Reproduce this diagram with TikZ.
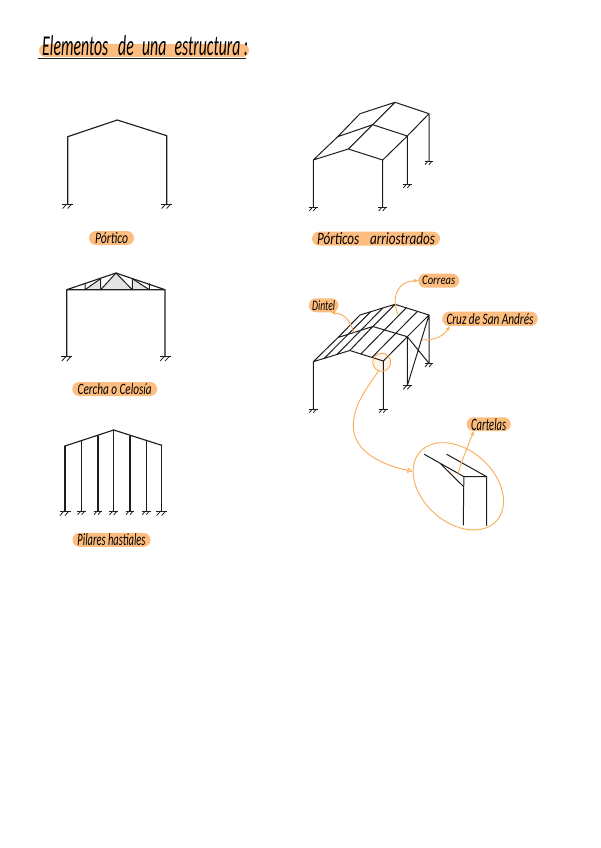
\documentclass[tikz,border=0pt]{standalone}
\usepackage{fontspec}
\usetikzlibrary{arrows.meta,calc,shapes.misc}
\newfontfamily\hand{Carlito}
\definecolor{hl}{HTML}{FDBD7F}
\definecolor{ol}{HTML}{F9AC55}
\definecolor{ink}{HTML}{1E1E1E}
\newcommand{\fittext}[3]{\resizebox{#1pt}{#2pt}{\hand\itshape #3}}
\tikzset{
  x=1pt,y=-1pt,
  beam/.style={draw=ink,line width=1.15pt,line join=round,line cap=round},
  thin beam/.style={draw=ink,line width=1pt,line join=round,line cap=round},
  pill/.style={rounded rectangle,fill=hl,inner sep=0pt,text=black},
  callout/.style={draw=ol,line width=.9pt,-{Stealth[length=4.5pt,width=4pt]}},
  ground/.pic={
    \draw[ink,line width=1pt] (-5.5,0)--(5.5,0);
    \draw[ink,line width=.8pt] (-1,0)--(-5,4.5) (4,0)--(0,4.5);
  }
}
\begin{document}
\begin{tikzpicture}
\useasboundingbox (0,0) rectangle (600,848);
% title
\node[pill,minimum width=210pt,minimum height=13pt] (titlebar) at (144,50.5) {};
\node[inner sep=0pt,anchor=base west,text=black] (title) at (42,56) {\fittext{206}{20}{Elementos\hspace{4pt} de\hspace{3pt} una\hspace{3pt} estructura :}};
\coordinate (ul1) at (38,59); \coordinate (ul2) at (246,59);
\draw[ink,line width=1pt] (ul1)--(ul2);

% portico
\coordinate (a1) at (67.7,136.7); \coordinate (a2) at (117.3,120); \coordinate (a3) at (166.7,135.7);
\coordinate (a0) at (67.7,204); \coordinate (a4) at (166.7,204);
\draw[beam] (a0)--(a1)--(a2)--(a3)--(a4);
\pic at (a0) {ground}; \pic at (a4) {ground};
\node[pill,minimum width=45pt,minimum height=14pt] (p1) at (111.5,238) {\fittext{33}{11}{Pórtico}};

% porticos arriostrados
\coordinate (A) at (313.3,160); \coordinate (B) at (348.3,149); \coordinate (C) at (382.7,160);
\coordinate (D) at (337.7,136.7); \coordinate (E) at (372.7,124.7); \coordinate (F) at (407.3,136);
\coordinate (G) at (360,113.7); \coordinate (H) at (395,102.3); \coordinate (I) at (429,113.7);
\coordinate (A0) at (313.3,207.3); \coordinate (C0) at (382.7,207.3); \coordinate (F0) at (407.3,184.3); \coordinate (I0) at (429,161);
\draw[thin beam] (A)--(B)--(C) (D)--(E)--(F) (G)--(H)--(I) (A)--(D)--(G) (B)--(E)--(H) (C)--(F)--(I)
  (A)--(A0) (C)--(C0) (F)--(F0) (I)--(I0);
\foreach \p in {A0,C0,F0,I0} \pic[scale=.8] at (\p) {ground};
\node[pill,minimum width=128pt,minimum height=14pt] (p2) at (376,238.7) {\fittext{118}{12}{Pórticos\hspace{6pt} arriostrados}};

% cercha
\coordinate (tl) at (66.7,289.7); \coordinate (tr) at (165,289.7); \coordinate (tp) at (116,273);
\coordinate (tl0) at (66.7,356.7); \coordinate (tr0) at (165,356.7);
\coordinate (v1) at (85,283.7); \coordinate (v1b) at (85,289.7);
\coordinate (v2) at (100.7,278.7); \coordinate (v2b) at (100.7,289.7);
\coordinate (v3) at (132.3,278.7); \coordinate (v3b) at (132.3,289.7);
\coordinate (v4) at (149.3,283.7); \coordinate (v4b) at (149.3,289.7);
\fill[black!11] (v2b)--(tp)--(v3b)--cycle;
\fill[black!11] (v1b)--(v2)--(v2b)--cycle;
\fill[black!11] (v3)--(v4b)--(v3b)--cycle;
\draw[beam] (tl0)--(tl)--(tp)--(tr)--(tr0) (tl)--(tr);
\draw[thin beam] (v1)--(v1b) (v2)--(v2b) (v3)--(v3b) (v4)--(v4b)
  (v1b)--(v2) (v2b)--(tp)--(v3b) (v3)--(v4b);
\pic at (tl0) {ground}; \pic at (tr0) {ground};
\node[pill,minimum width=85pt,minimum height=14pt] (p3) at (114.7,389) {\fittext{74}{11}{Cercha o Celosía}};

% pilares hastiales
\coordinate (h1) at (65,446); \coordinate (h2) at (81.7,441); \coordinate (h3) at (98,435.7); \coordinate (h4) at (113.7,430);
\coordinate (h5) at (130,435.7); \coordinate (h6) at (146.3,441); \coordinate (h7) at (161.7,445.3);
\draw[beam] (h1)--(h4)--(h7);
\foreach \n/\sc in {h1/1,h2/.8,h3/.8,h4/.85,h5/.8,h6/.8,h7/1}{
  \coordinate (\n b) at (\n |- 0,511);
  \draw[beam] (\n)--(\n b);
  \pic[scale=\sc] at (\n b) {ground};
}
\node[pill,minimum width=78pt,minimum height=14pt] (p4) at (111.5,539.8) {\fittext{68}{12}{Pilares hastiales}};

% nave
\coordinate (nA) at (313.3,361.7); \coordinate (nB) at (349.8,350.5); \coordinate (nC) at (383.3,361);
\coordinate (nD) at (338,337.5); \coordinate (nE) at (372.8,326.5); \coordinate (nF) at (407.3,336.7);
\coordinate (nG) at (360,315); \coordinate (nH) at (395,304.3); \coordinate (nI) at (429,315);
\coordinate (nA0) at (313.3,409); \coordinate (nC0) at (383.3,409); \coordinate (nF0) at (407.3,385.7); \coordinate (nI0) at (429,363.3);
\fill[ol,opacity=.13] (381.7,362.3) circle[radius=9];
\draw[thin beam] (nA)--(nB)--(nC) (nD)--(nE)--(nF) (nG)--(nH)--(nI) (nA)--(nD)--(nG) (nB)--(nE)--(nH) (nC)--(nF)--(nI)
  (nA)--(nA0) (nC)--(nC0) (nF)--(nF0) (nI)--(nI0) (nF)--(nI0) (nI)--(nF0);
\foreach \f in {.3,.65} \draw[thin beam] ($(nA)!\f!(nB)$)--($(nG)!\f!(nH)$);
\foreach \f in {.33,.66} \draw[thin beam] ($(nB)!\f!(nC)$)--($(nH)!\f!(nI)$);
\foreach \p in {nA0,nC0,nF0,nI0} \pic[scale=.8] at (\p) {ground};
\node[pill,minimum width=29.5pt,minimum height=14pt] (dintel) at (323.7,305.3) {\fittext{23}{10}{Dintel}};
\node[pill,minimum width=41pt,minimum height=14pt] (correas) at (438.7,280.7) {\fittext{33}{8.5}{Correas}};
\node[pill,minimum width=95.5pt,minimum height=14.3pt] (cruz) at (490,318.8) {\fittext{87}{11}{Cruz de San Andrés}};
\node[pill,minimum width=44pt,minimum height=13.7pt] (cartelas) at (488.7,424.2) {\fittext{35}{12}{Cartelas}};
\coordinate (c1) at (354,332.5); \coordinate (c2) at (397.7,314); \coordinate (c3) at (422.3,339.7);
\draw[callout] (c1) .. controls (349.5,320) and (345,314) .. (dintel.south east);
\draw[callout] (c2) .. controls (391,296) and (398,281) .. (correas.west);
\draw[callout] (c3) .. controls (435,341) and (445,335) .. (cruz.south west);

% detail
\coordinate (small) at (381.7,362.3);
\coordinate (big) at (458.3,486.3);
\draw[ol,line width=.9pt] (small) circle[radius=9];
\draw[ol,line width=.9pt] (big) circle[x radius=51.5,y radius=36,rotate=-42];
\coordinate (sm) at (379,370.5); \coordinate (bg) at (412.5,471.3);
\draw[ol,line width=.9pt,-{Triangle[open,length=5pt,width=5pt]}] (sm) .. controls (365,390) and (352.5,408) .. (353.3,426.7) .. controls (354,452) and (382,465) .. (bg);
\coordinate (k1) at (424.3,454.3); \coordinate (k2) at (464,476.7); \coordinate (k3) at (446.7,454.3); \coordinate (k4) at (486.7,476.7);
\coordinate (k5) at (463.7,486.7); \coordinate (k6) at (463.3,525); \coordinate (k7) at (486.7,525.7); \coordinate (k8) at (440,463.3);
\draw[thin beam] (k1)--(k2)--(k4)--(k3) (k2)--(k5)--(k6) (k4)--(k7) (k8)--(k5);
\coordinate (k9) at (457.7,475);
\draw[callout] (k9) .. controls (461,462) and (468,446) .. (cartelas.south west);
\end{tikzpicture}
\end{document}
